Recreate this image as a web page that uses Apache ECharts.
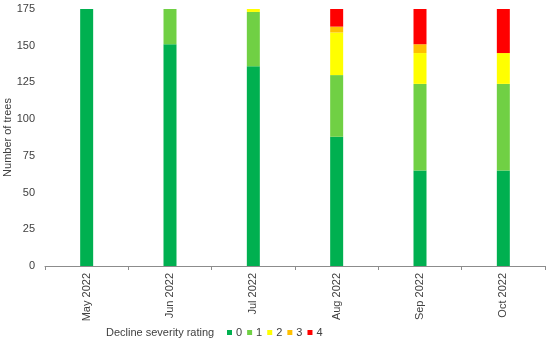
<!DOCTYPE html>
<html><head><meta charset="utf-8">
<script src="https://cdn.jsdelivr.net/npm/echarts@6/dist/echarts.min.js"></script>
<style>html,body{margin:0;padding:0;background:#fff}#c{width:550px;height:342px}</style>
</head><body><div id="c"></div>
<script>
const categories = ['May 2022','Jun 2022','Jul 2022','Aug 2022','Sep 2022','Oct 2022'];
const ratingNames = ['0','1','2','3','4'];
const rating0 = [175, 151, 136, 88, 65, 65];
const rating1 = [0, 24, 37, 42, 59, 59];
const rating2 = [0, 0, 2, 29, 21, 21];
const rating3 = [0, 0, 0, 4, 6, 0];
const rating4 = [0, 0, 0, 12, 24, 30];
const colors = ['#00B050','#70D044','#FFFF00','#FFC000','#FF0000'];
const yTicks = [0,25,50,75,100,125,150,175];

const allData = [rating0, rating1, rating2, rating3, rating4];
const chart = echarts.init(document.getElementById('c'));
const font = 'Liberation Sans';
chart.setOption({
  animation: false,
  textStyle: {fontFamily: font},
  grid: {left: 45, right: 5, top: 9, bottom: 76, containLabel: false, outerBoundsMode: 'none'},
  legend: {
    left: 222, top: 322, itemWidth: 5, itemHeight: 5, itemGap: 5,
    icon: 'rect',
    textStyle: {fontSize: 11, color: '#404040', fontFamily: font, padding: [0,0,0,-1]},
    data: ratingNames
  },
  graphic: [{type: 'text', left: 106, top: 327, style: {text: 'Decline severity rating', fontSize: 11, fill: '#404040', fontFamily: font}}],
  xAxis: {
    type: 'category', data: categories,
    axisLine: {lineStyle: {color: '#8c8c8c', width: 1}},
    axisTick: {show: true, length: 4, lineStyle: {color: '#8c8c8c'}},
    axisLabel: {rotate: 90, fontSize: 11, color: '#404040', margin: 7, fontFamily: font}
  },
  yAxis: {
    type: 'value', min: 0, max: 175, interval: 25,
    name: 'Number of trees', nameLocation: 'middle', nameGap: 32, nameRotate: 90,
    nameMoveOverlap: false,
    nameTextStyle: {fontSize: 11, color: '#404040', fontFamily: font},
    axisLine: {show: false}, axisTick: {show: false}, splitLine: {show: false},
    axisLabel: {fontSize: 11, color: '#404040', margin: 10, fontFamily: font,
      formatter: v => yTicks.includes(v) ? String(v) : ''}
  },
  series: ratingNames.map((n, i) => ({
    name: n, type: 'bar', stack: 'total', barWidth: 13,
    itemStyle: {color: colors[i]},
    data: allData[i]
  }))
});
</script></body></html>
